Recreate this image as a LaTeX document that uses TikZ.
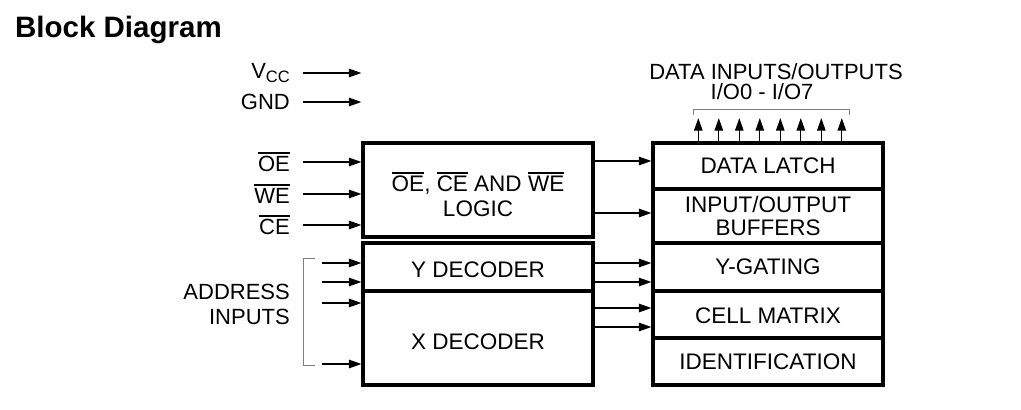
\documentclass[tikz,border=0pt]{standalone}
\usepackage{fontspec}
\setmainfont{Liberation Sans}
\usetikzlibrary{positioning, arrows.meta}
\newcommand{\nbar}[1]{\leavevmode\vbox{\hrule height 1.4pt\kern2.6pt\hbox{#1}}}

\begin{document}
\begin{tikzpicture}[x=1pt, y=-1pt,
    block/.style={draw, line width=3.3pt, minimum width=230pt, inner sep=0pt, outer sep=0pt,
                  align=center, font=\fontsize{22.5}{23}\selectfont},
    lbl/.style={inner sep=0pt, anchor=east, align=right, font=\fontsize{22}{25}\selectfont},
    txt/.style={inner sep=0pt, anchor=base, font=\fontsize{22}{25}\selectfont},
    arr/.style={line width=1.1pt, -{Triangle[length=12.5pt, width=8.5pt]}, shorten >=1.6pt},
    brk/.style={draw=gray, line width=1pt}]
  \useasboundingbox (0,0) rectangle (1021,410);
  \node[anchor=base west, inner sep=0pt, font=\fontsize{29.5}{32}\selectfont\bfseries] (title) at (15,37) {Block Diagram};

  % logic and decoders
  \node[block, minimum height=94pt, text height=54pt, anchor=north west] (logic) at (363,143)
    {\nbar{OE}, \nbar{CE} AND \nbar{WE}\\[2pt]LOGIC};
  \node[block, minimum height=48pt, text height=22pt, anchor=north west] (ydec) at (363,243) {Y DECODER};
  \node[block, minimum height=94pt, text height=24pt, below=0pt of ydec] (xdec) {X DECODER};

  % memory column
  \node[block, minimum height=46pt, anchor=north west] (latch) at (653,143) {DATA LATCH};
  \node[block, minimum height=54pt, below=0pt of latch] (buffers) {INPUT/OUTPUT\\BUFFERS};
  \node[block, minimum height=48pt, below=0pt of buffers] (ygate) {Y-GATING};
  \node[block, minimum height=47pt, text height=19pt, below=0pt of ygate] (matrix) {CELL MATRIX};
  \node[block, minimum height=47pt, below=0pt of matrix] (ident) {IDENTIFICATION};

  % pin labels
  \node[lbl] (vcc) at (290,73) {V\raisebox{-3.5pt}{\fontsize{16.5}{16}\selectfont CC}};
  \node[lbl] (gnd) at (290,102) {GND};
  \node[lbl] (oe) at (290,162) {\nbar{OE}};
  \node[lbl] (we) at (290,194) {\nbar{WE}};
  \node[lbl] (ce) at (290,225) {\nbar{CE}};
  \node[lbl] (addr) at (290,304) {ADDRESS\\INPUTS};
  \node[txt] (dio) at (776,79) {DATA INPUTS/OUTPUTS};
  \node[txt] (iorange) at (762,99) {I/O0 - I/O7};

  % arrows
  \foreach \n in {vcc,gnd,oe,we,ce}
    \draw[arr, shorten <=13pt] (\n.east) -- (\n.east -| logic.west);
  \foreach \y [count=\i] in {263,282,303,364} {
    \coordinate (ain\i) at (322,\y);
    \draw[arr] (ain\i) -- (ain\i -| ydec.west);
  }
  \draw[brk] (315,258) -| (303,365) -- (315,365);
  \foreach \y in {161,213,263,282,308,327}
    \draw[arr, shorten <=1.6pt] (logic.east |- 0,\y) -- (latch.west |- 0,\y);
  \foreach \i in {0,...,7} {
    \coordinate (io\i) at (698.3+20.5*\i,116.5);
    \draw[arr] (latch.north -| io\i) -- (io\i);
  }
  \draw[brk] (693,115) |- (849,109) -- (849,115);
\end{tikzpicture}
\end{document}
